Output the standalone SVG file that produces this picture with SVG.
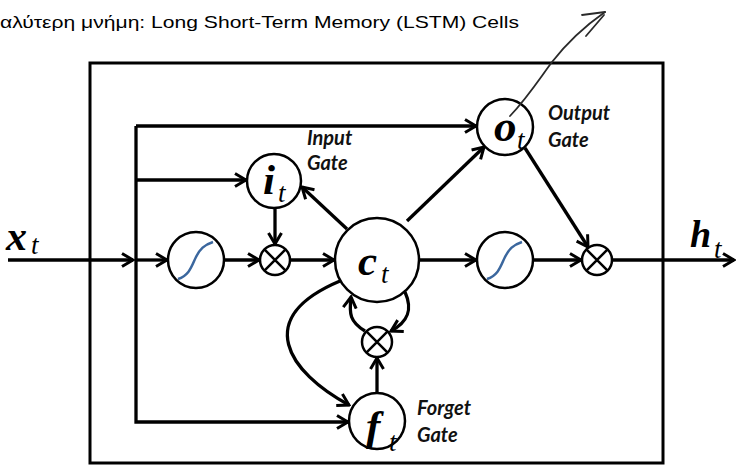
<svg xmlns="http://www.w3.org/2000/svg" width="736" height="465" viewBox="0 0 736 465">
<style>
.title{font-family:"Liberation Sans",Arial,"DejaVu Sans",sans-serif;font-size:17px;fill:#000}
.lbl{font-family:Lato,"Open Sans",sans-serif;font-size:20px;font-weight:bold;font-style:italic;fill:#111}
.m{font-family:"Liberation Serif","Times New Roman",serif;font-weight:bold;font-style:italic;fill:#000}
.sub{font-family:"Liberation Serif","Times New Roman",serif;font-style:italic;font-size:27px;fill:#000}
.node{fill:#fff;stroke:#000;stroke-width:2.5}
.x{stroke:#000;stroke-width:2.5}
.sig{fill:none;stroke:#3b679e;stroke-width:2.5}
.c{fill:none;stroke:#000;stroke-width:3.3;marker-end:url(#ah)}
.cn{fill:none;stroke:#000;stroke-width:3.3}
</style>
<defs>
<marker id="ah" viewBox="0 0 14 16" refX="12" refY="8" markerWidth="14" markerHeight="16" markerUnits="userSpaceOnUse" orient="auto">
<path d="M1,1.5 L12,8 L1,14.5" fill="none" stroke="#000" stroke-width="3"/>
</marker>
<path id="scurve" d="M-18,19 C-6,15 -4,5 0,-3 C4,-11 8,-15 17,-18"/>
</defs>

<text class="title" x="0" y="28" textLength="519" lengthAdjust="spacingAndGlyphs">αλύτερη μνήμη: Long Short-Term Memory (LSTM) Cells</text>

<rect id="cell-box" x="90" y="63" width="573" height="400" fill="none" stroke="#000" stroke-width="3"/>

<g id="connectors">
<path class="c" d="M8,260 H133"/>
<path class="cn" d="M136,260 V126"/>
<path class="c" d="M136,126 H476"/>
<path class="c" d="M136,180 H246"/>
<path class="c" d="M136,260 V422 H348"/>
<path class="c" d="M136,260 H167"/>
<path class="c" d="M224,260 H259"/>
<path class="c" d="M291,260 H334"/>
<path class="c" d="M419,260 H476"/>
<path class="c" d="M533,260 H581"/>
<path class="c" d="M612,260 H734"/>
<path class="c" d="M275,208 V244"/>
<path class="c" d="M377,393 V358"/>
<path class="c" d="M347,229 L302,187"/>
<path class="c" d="M407,221 L484,147"/>
<path class="c" d="M525,148 L588,247"/>
<path class="c" d="M365,331 C350,322 349,314 351,297"/>
<path class="c" d="M405,292 C413,310 408,322 391,331"/>
<path class="c" d="M340,281 C252,318 288,372 349,405"/>
</g>

<g id="sigmoid-in">
<circle class="node" cx="196" cy="260" r="28"/>
<use href="#scurve" class="sig" transform="translate(196,260)"/>
</g>
<g id="mult-in">
<circle class="node" cx="275" cy="260" r="15"/>
<path class="x" d="M264.4,249.4 L285.6,270.6 M285.6,249.4 L264.4,270.6"/>
</g>
<g id="input-gate">
<circle class="node" cx="274" cy="181" r="27"/>
<text class="m" x="263" y="194" font-size="43">i</text>
<text class="sub" x="278" y="202">t</text>
<text class="lbl" x="307" y="145">Input</text>
<text class="lbl" x="307" y="170">Gate</text>
</g>
<g id="cell">
<circle class="node" cx="377" cy="260" r="42"/>
<text class="m" x="358" y="275" font-size="43">c</text>
<text class="sub" x="381" y="283">t</text>
</g>
<g id="output-gate">
<circle class="node" cx="505" cy="127" r="28"/>
<text class="m" x="494" y="141" font-size="45">o</text>
<text class="sub" x="517" y="149">t</text>
<text class="lbl" x="548" y="120">Output</text>
<text class="lbl" x="548" y="147">Gate</text>
</g>
<g id="sigmoid-out">
<circle class="node" cx="505" cy="260" r="28"/>
<use href="#scurve" class="sig" transform="translate(505,260)"/>
</g>
<g id="mult-out">
<circle class="node" cx="597" cy="260" r="15"/>
<path class="x" d="M586.4,249.4 L607.6,270.6 M607.6,249.4 L586.4,270.6"/>
</g>
<g id="mult-forget">
<circle class="node" cx="377" cy="342" r="15"/>
<path class="x" d="M366.4,331.4 L387.6,352.6 M387.6,331.4 L366.4,352.6"/>
</g>
<g id="forget-gate">
<circle class="node" cx="377" cy="421" r="28"/>
<text class="m" x="366" y="440" font-size="43">f</text>
<text class="sub" x="389" y="451">t</text>
<text class="lbl" x="417" y="415">Forget</text>
<text class="lbl" x="417" y="442">Gate</text>
</g>
<g id="input-x">
<text class="m" x="6" y="250" font-size="42">x</text>
<text class="sub" x="31" y="254">t</text>
</g>
<g id="output-h">
<text class="m" x="690" y="247" font-size="38">h</text>
<text class="sub" x="714" y="258">t</text>
</g>

<g id="pen-arrow" fill="none" stroke="#2a2a2a" stroke-width="1.8" stroke-linecap="round" stroke-linejoin="round">
<path d="M510,116 C528,97 540,78 552,62 C566,44 585,26 605,12"/>
<path d="M586,36 L604,15"/>
<path d="M582,15 L605,12"/>
</g>
</svg>
